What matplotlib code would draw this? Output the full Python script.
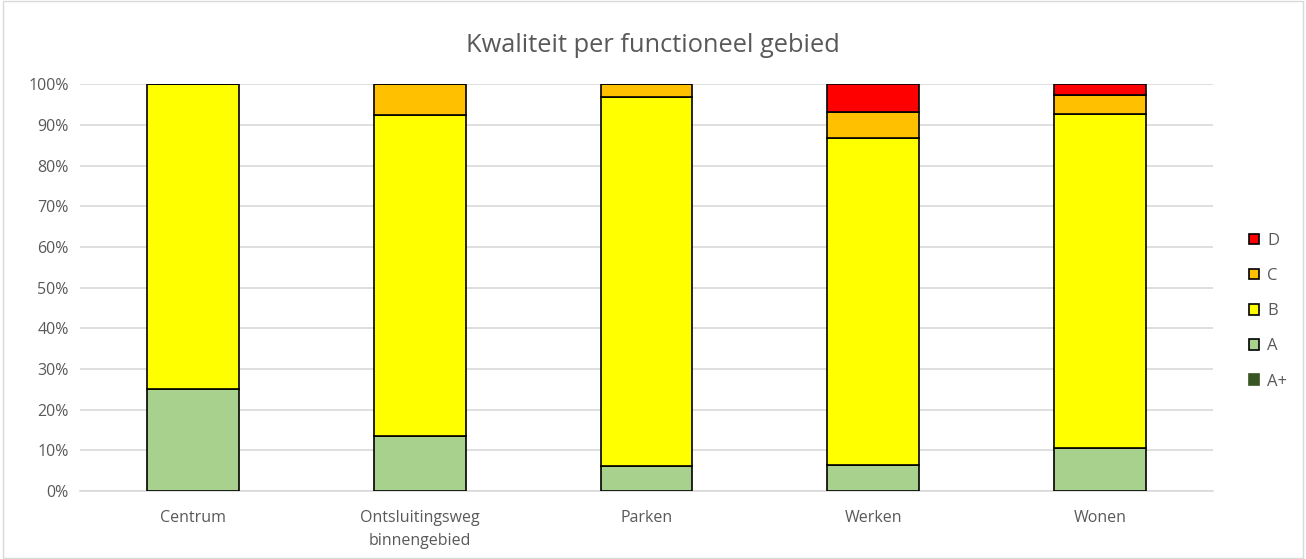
import matplotlib.pyplot as plt
import numpy as np
from matplotlib.patches import Patch

categories = ['Centrum', 'Ontsluitingsweg\nbinnengebied', 'Parken', 'Werken', 'Wonen']
a_plus = [0.0, 0.0, 0.0, 0.0, 0.0]
a = [25.0, 13.6, 6.0, 6.4, 10.6]
b = [75.0, 78.8, 90.8, 80.3, 82.0]
c = [0.0, 7.6, 3.2, 6.4, 4.9]
d = [0.0, 0.0, 0.0, 6.9, 2.5]

labels = ['A+', 'A', 'B', 'C', 'D']
colours = ['#375623', '#a9d18e', '#ffff00', '#ffc000', '#ff0000']
series = [a_plus, a, b, c, d]

plt.rcParams['font.family'] = ['Open Sans', 'DejaVu Sans']
grey = '#595959'

fig = plt.figure(figsize=(13.06, 5.59), dpi=100)
ax = fig.add_axes([0.061, 0.122, 0.868, 0.727])

x = np.arange(len(categories))
bottom = np.zeros(len(categories))
for vals, col in zip(series, colours):
    vals = np.array(vals)
    ax.bar(x, vals, width=0.405, bottom=bottom, color=col,
           edgecolor='black', linewidth=1.2, zorder=3)
    bottom += vals

ax.set_xlim(-0.5, len(categories) - 0.5)
ax.set_ylim(0, 100)
ax.set_yticks(np.arange(0, 101, 10))
ax.set_yticklabels(['{}%'.format(v) for v in range(0, 101, 10)])
ax.set_xticks(x)
ax.set_xticklabels(categories, linespacing=1.6)
ax.yaxis.grid(True, color='#d9d9d9', linewidth=1.2, zorder=0)
ax.tick_params(axis='both', length=0, labelsize=11.5, colors=grey)
ax.tick_params(axis='x', pad=14)
ax.tick_params(axis='y', pad=8)
for s in ['top', 'right', 'left']:
    ax.spines[s].set_visible(False)
ax.spines['bottom'].set_color('#d9d9d9')
ax.spines['bottom'].set_linewidth(1.2)

fig.text(0.5, 0.918, 'Kwaliteit per functioneel gebied', ha='center', va='center',
         fontsize=18.3, color=grey)

handles = []
for lab, col in zip(labels[::-1], colours[::-1]):
    ec = col if lab == 'A+' else 'black'
    handles.append(Patch(facecolor=col, edgecolor=ec, linewidth=1.2, label=lab))
ax.legend(handles=handles, loc='center left', bbox_to_anchor=(1.018, 0.442),
          frameon=False, fontsize=12, labelcolor=grey, handlelength=0.6,
          handleheight=0.6, handletextpad=0.5, labelspacing=1.15)

fig.patches.append(plt.Rectangle((0.002, 0.002), 0.996, 0.996, transform=fig.transFigure,
                                 fill=False, edgecolor='#d9d9d9', linewidth=1))

plt.savefig('out.png', dpi=100)
